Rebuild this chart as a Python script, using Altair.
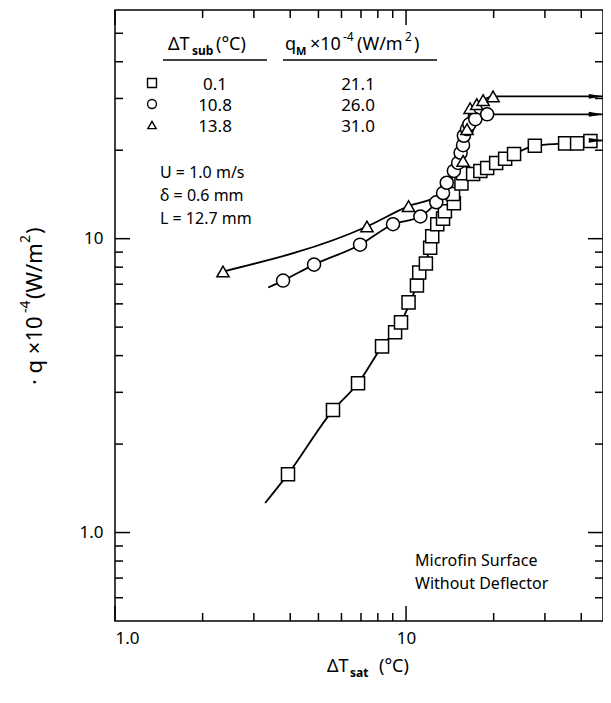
import altair as alt
import pandas as pd

# ---------------- data ----------------
# dT_sub = 0.1 C  (squares)
sq_x = [3.93, 5.61, 6.84, 8.27, 9.17, 9.61, 10.2, 10.9, 11.1, 11.7, 12.1, 12.3, 12.8,
        13.4, 13.6, 14.6, 14.5, 15.5, 15.7, 17.0, 18.0, 19.0, 20.4, 21.9, 23.5, 27.7,
        35.2, 38.7, 43.0]
sq_q = [1.58, 2.61, 3.22, 4.30, 4.80, 5.19, 6.07, 6.93, 7.67, 8.23, 9.32, 10.2, 11.2,
        11.7, 12.4, 13.2, 14.2, 15.4, 16.7, 16.6, 17.0, 17.4, 18.1, 18.7, 19.4, 20.7,
        21.1, 21.1, 21.5]
sq_line_x = [3.28, 3.93, 5.61, 6.84, 8.27, 9.61, 10.9, 11.7, 12.3, 13.0, 14.0, 15.5,
             17.0, 19.0, 21.9, 27.7, 35.2, 43.0, 47.5]
sq_line_q = [1.26, 1.58, 2.61, 3.22, 4.30, 5.19, 6.93, 8.23, 10.2, 11.5, 13.3, 15.4,
             16.6, 17.4, 18.7, 20.7, 21.1, 21.5, 21.6]

# dT_sub = 10.8 C (circles)
ci_x = [3.78, 4.83, 6.95, 9.02, 11.2, 12.7, 13.4, 13.8, 14.6, 15.1, 15.4, 15.7, 15.8,
        16.2, 16.5, 17.3, 19.0]
ci_q = [7.20, 8.16, 9.54, 11.2, 11.9, 13.3, 14.3, 15.5, 17.0, 18.1, 19.6, 20.8, 22.4,
        23.6, 24.5, 25.5, 26.5]
ci_line_x = [3.36, 3.78, 4.83, 6.95, 9.02, 11.2, 12.7, 13.4, 13.8, 14.6, 15.1, 15.4,
             15.7, 15.8, 16.2, 16.5, 17.3, 19.0, 47.5]
ci_line_q = [6.82, 7.20, 8.16, 9.54, 11.2, 11.9, 13.3, 14.3, 15.5, 17.0, 18.1, 19.6,
             20.8, 22.4, 23.6, 24.5, 25.5, 26.5, 26.5]

# dT_sub = 13.8 C (triangles)
tr_x = [2.35, 7.34, 10.2, 15.7, 16.2, 16.6, 17.5, 18.4, 19.9]
tr_q = [7.73, 11.0, 12.9, 18.4, 23.6, 27.8, 28.7, 29.6, 30.5]
tr_line_x = [2.35, 7.34, 10.2, 13.1, 13.9, 15.1, 15.7, 16.2, 16.6, 17.5, 18.4, 19.9, 47.5]
tr_line_q = [7.73, 11.0, 12.9, 14.1, 15.1, 17.7, 18.4, 23.6, 27.8, 28.7, 29.6, 30.5, 30.5]

arrow_x = [45.0, 45.0, 45.0]
arrow_q = [21.6, 26.5, 30.5]

# axis ticks
x_major = [1, 10]
x_minor = [2, 3, 4, 5, 6, 7, 8, 9, 20, 30, 40]
y_major = [1, 10]
y_minor = [0.6, 0.7, 0.8, 0.9, 2, 3, 4, 5, 6, 7, 8, 9, 20, 30, 40, 50]

# legend table
leg_sub = ["0.1", "10.8", "13.8"]
leg_qm = ["21.1", "26.0", "31.0"]

# ---------------- chart ----------------
F = "Noto Sans"
W, H = 488, 611
xs = alt.Scale(type="log", domain=[1, 47.5], nice=False)
ys = alt.Scale(type="log", domain=[0.5, 60], nice=False)
dummy = pd.DataFrame({"a": [0]})

x_axis = alt.Axis(
    values=x_major, labelExpr="datum.value == 1 ? '1.0' : '10'", ticks=False,
    domain=False, grid=False, labelFontSize=17, labelFont=F, labelColor="black",
    labelPadding=9, title=None)
y_axis = alt.Axis(
    values=y_major, labelExpr="datum.value == 1 ? '1.0' : '10'", ticks=False,
    domain=False, grid=False, labelFontSize=17, labelFont=F, labelColor="black",
    labelPadding=12, title=None)


def X(field):
    return alt.X(f"{field}:Q", scale=xs, axis=x_axis)


def Y(field):
    return alt.Y(f"{field}:Q", scale=ys, axis=y_axis)


def sdf(xv, qv, name):
    return pd.DataFrame({"dT": xv, "q": qv, "s": name})


lines_df = pd.concat([sdf(sq_line_x, sq_line_q, "a"), sdf(ci_line_x, ci_line_q, "b"),
                      sdf(tr_line_x, tr_line_q, "c")])
lines = alt.Chart(lines_df).mark_line(interpolate="monotone", color="black",
                                      strokeWidth=1.8).encode(x=X("dT"), y=Y("q"),
                                                              detail="s:N")


def markers(xv, qv, shape, size):
    return alt.Chart(sdf(xv, qv, shape)).mark_point(
        shape=shape, filled=True, fill="white", stroke="black", strokeWidth=1.5,
        size=size, opacity=1).encode(x=X("dT"), y=Y("q"))


m_sq = markers(sq_x, sq_q, "square", 170)
m_ci = markers(ci_x, ci_q, "circle", 170)
m_tr = markers(tr_x, tr_q, "triangle-up", 150)

arrows = alt.Chart(sdf(arrow_x, arrow_q, "arr")).mark_point(
    shape="M-1,-0.33L1,0L-1,0.33Z", filled=True, color="black", size=220,
    opacity=1).encode(x=X("dT"), y=Y("q"))


def xticks(vals, length):
    d = pd.DataFrame({"dT": vals})
    b = alt.Chart(d).mark_rule(color="black", strokeWidth=1.5).encode(
        x=X("dT"), y=alt.value(H), y2=alt.value(H - length))
    t = alt.Chart(d).mark_rule(color="black", strokeWidth=1.5).encode(
        x=X("dT"), y=alt.value(0), y2=alt.value(length))
    return [b, t]


def yticks(vals, length):
    d = pd.DataFrame({"q": vals})
    l = alt.Chart(d).mark_rule(color="black", strokeWidth=1.5).encode(
        y=Y("q"), x=alt.value(0), x2=alt.value(length))
    r = alt.Chart(d).mark_rule(color="black", strokeWidth=1.5).encode(
        y=Y("q"), x=alt.value(W), x2=alt.value(W - length))
    return [l, r]


ticks = xticks(x_major, 15) + xticks(x_minor, 8) + yticks(y_major, 15) + yticks(y_minor, 8)


def txt(s, x, y, size=18, align="left", weight="normal", angle=0):
    return alt.Chart(dummy).mark_text(
        text=s, align=align, baseline="alphabetic", fontSize=size, font=F,
        fontWeight=weight, color="black", angle=angle).encode(
        x=alt.value(x), y=alt.value(y))


def hline(x1, x2, y):
    return alt.Chart(dummy).mark_rule(color="black", strokeWidth=1.5).encode(
        x=alt.value(x1), x2=alt.value(x2), y=alt.value(y))


def sym(shape, x, y, size):
    return alt.Chart(dummy).mark_point(
        shape=shape, filled=False, color="black", strokeWidth=1.4, size=size,
        opacity=1).encode(x=alt.value(x), y=alt.value(y))


annot = [
    # header
    txt("ΔT", 53, 40), txt("sub", 77, 45, size=12, weight="bold"), txt("(°C)", 101, 40),
    txt("q", 170, 40), txt("M", 181, 45, size=11, weight="bold"),
    txt("×10", 195, 40), txt("-4", 228, 31, size=12),
    txt("(W/m", 242, 40), txt("2", 290, 31, size=12), txt(")", 299, 40),
    hline(48, 152, 50), hline(168, 322, 50),
    sym("square", 37, 73, 80), sym("circle", 37, 94, 80), sym("triangle-up", 37, 115, 70),
    txt(leg_sub[0], 100, 80, size=17, align="center"),
    txt(leg_sub[1], 100, 101, size=17, align="center"),
    txt(leg_sub[2], 100, 122, size=17, align="center"),
    txt(leg_qm[0], 243, 80, size=17, align="center"),
    txt(leg_qm[1], 243, 101, size=17, align="center"),
    txt(leg_qm[2], 243, 122, size=17, align="center"),
    # parameters
    txt("U = 1.0 m/s", 45, 168, size=16), txt("δ = 0.6 mm", 45, 191, size=16),
    txt("L = 12.7 mm", 45, 214, size=16),
    # surface label
    txt("Microfin Surface", 300, 556, size=16), txt("Without Deflector", 300, 579, size=16),
    # x title
    txt("ΔT", 212, 662), txt("sat", 235, 667, size=12, weight="bold"), txt("(°C)", 264, 662),
    # y title (rotated, pieces)
    txt("· q ×10", -73, 375, size=22, angle=270),
    txt("-4", -85, 303, size=14, angle=270),
    txt("(W/m", -73, 289, size=22, angle=270),
    txt("2", -85, 233, size=14, angle=270),
    txt(")", -73, 224, size=22, angle=270),
]

chart = alt.layer(lines, *ticks, m_sq, m_ci, m_tr, arrows, *annot).properties(
    width=W, height=H, autosize="none",
    padding={"left": 107, "top": 2, "right": 0, "bottom": 70},
).configure(background="white").configure_view(stroke="black", strokeWidth=1.5)

chart.save("out.html", embed_options={"renderer": "svg", "actions": False})
